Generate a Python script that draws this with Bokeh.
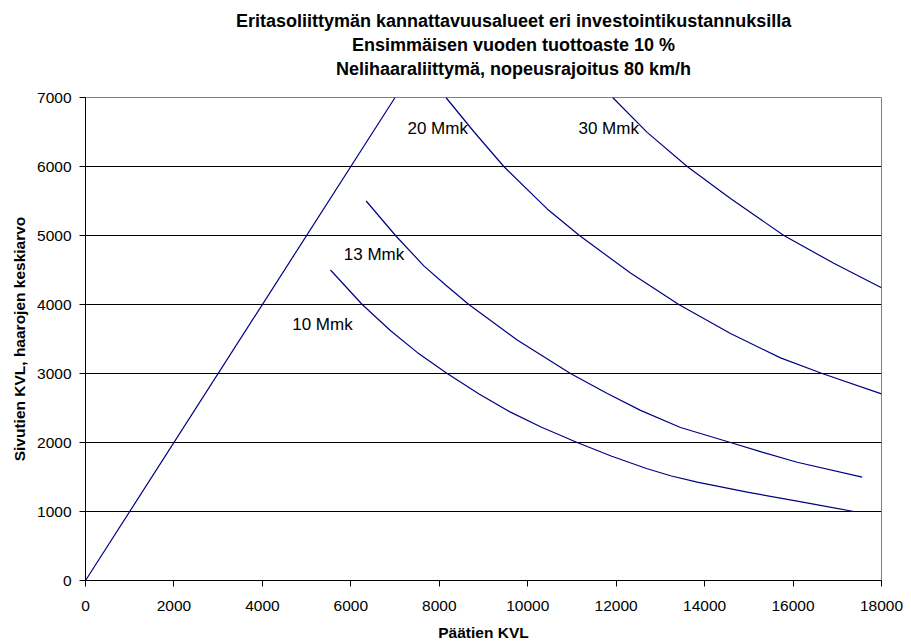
from bokeh.plotting import figure
from bokeh.models import Label, FixedTicker, Range1d, Title
from bokeh.embed import file_html
from bokeh.resources import INLINE

# ---- data ----
diag_x = [0, 7000]
diag_y = [0, 7000]

m10_x = [5540, 6257, 6900, 7500, 8179, 8900, 9600, 10300, 11118, 11900, 12702, 13250, 13833, 14963, 16093, 17374]
m10_y = [4500, 4000, 3620, 3306, 3000, 2704, 2444, 2225, 2000, 1800, 1619, 1515, 1425, 1280, 1150, 1000]

m13_x = [6347, 7010, 7651, 8150, 8668, 9762, 10967, 11800, 12551, 13455, 14585, 15300, 16093, 17563]
m13_y = [5500, 5000, 4560, 4280, 4000, 3485, 3000, 2710, 2466, 2218, 2000, 1860, 1714, 1497]

m20_x = [8150, 8788, 9459, 10440, 11170, 12324, 13416, 14585, 15716, 16658, 18000]
m20_y = [7000, 6500, 6000, 5385, 5000, 4455, 4000, 3580, 3226, 3000, 2705]

m30_x = [11920, 12701, 13606, 14585, 15792, 16921, 18000]
m30_y = [7000, 6495, 6000, 5535, 5000, 4597, 4242]

curve_labels = ["10 Mmk", "13 Mmk", "20 Mmk", "30 Mmk"]
x_ticks = list(range(0, 18001, 2000))
y_ticks = list(range(0, 7001, 1000))

titles = [
    "Eritasoliittymän kannattavuusalueet eri investointikustannuksilla",
    "Ensimmäisen vuoden tuottoaste 10 %",
    "Nelihaaraliittymä, nopeusrajoitus 80 km/h",
]
# approximate rendered widths (px) used to centre the title lines
title_widths = [555, 323, 355]

FONT = "Liberation Sans"
NAVY = "#000080"

p = figure(width=911, height=644, output_backend="svg", toolbar_location=None,
           x_range=Range1d(0, 18000), y_range=Range1d(0, 7000),
           min_border_left=85, min_border_right=30, min_border_top=97, min_border_bottom=64)
p.background_fill_color = "white"
p.border_fill_color = "white"
p.outline_line_color = "#808080"
p.outline_line_width = 1

for xs, ys in [(diag_x, diag_y), (m10_x, m10_y), (m13_x, m13_y), (m20_x, m20_y), (m30_x, m30_y)]:
    p.line(xs, ys, line_color=NAVY, line_width=1.2)

# axes
p.xaxis.ticker = FixedTicker(ticks=x_ticks)
p.yaxis.ticker = FixedTicker(ticks=y_ticks)
for ax in (p.xaxis, p.yaxis):
    ax.axis_line_color = "black"
    ax.major_tick_line_color = "black"
    ax.major_tick_out = 6
    ax.major_tick_in = 0
    ax.minor_tick_line_color = None
    ax.major_label_text_font = FONT
    ax.major_label_text_font_size = "15.5px"
    ax.major_label_text_color = "black"
    ax.axis_label_text_font = FONT
    ax.axis_label_text_font_size = "15.5px"
    ax.axis_label_text_font_style = "bold"
    ax.axis_label_text_color = "black"
p.xaxis.axis_label = "Päätien KVL"
p.yaxis.axis_label = "Sivutien KVL, haarojen keskiarvo"
p.xaxis.major_label_standoff = 14
p.yaxis.major_label_standoff = 8
p.xaxis.axis_label_standoff = 10
p.yaxis.axis_label_standoff = 6

p.xgrid.grid_line_color = None
p.ygrid.ticker = FixedTicker(ticks=y_ticks)
p.ygrid.grid_line_color = "black"
p.ygrid.grid_line_width = 1

# curve labels (data coords)
lab_pos = [(4674, 3710), (5841, 4725), (7281, 6551), (11148, 6551)]
for txt, (lx, ly) in zip(curve_labels, lab_pos):
    p.add_layout(Label(x=lx, y=ly, text=txt, text_font=FONT, text_font_size="17px",
                       text_color="black", text_align="left", text_baseline="middle"))

# spacer between the plot and the title block (first added sits closest to the plot)
p.add_layout(Title(text=" ", text_font_size="1px", standoff=15), "above")

# titles
title_center = 428  # px from frame left
for t, w in reversed(list(zip(titles, title_widths))):
    p.add_layout(Title(text=t, align="left", offset=title_center - w / 2,
                       text_font=FONT, text_font_size="18px", text_font_style="bold",
                       text_color="black", standoff=2), "above")

open("out.html", "w").write(file_html(p, INLINE))
